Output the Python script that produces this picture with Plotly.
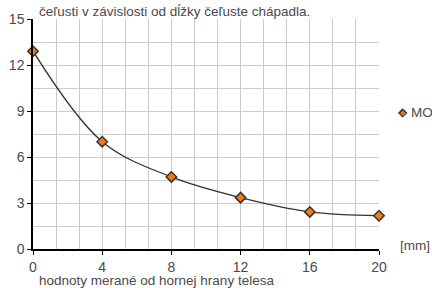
import plotly.graph_objects as go

x_vals = [0, 4, 8, 12, 16, 20]
y_vals = [12.9, 7.0, 4.7, 3.35, 2.42, 2.17]
series_name = "MOMENT"
title_text = "čeľusti v závislosti od dĺžky čeľuste chápadla."
x_title = "hodnoty merané od hornej hrany telesa"
x_unit = "[mm]"

fig = go.Figure()
fig.add_trace(go.Scatter(
    x=x_vals, y=y_vals, name=series_name, mode="lines+markers",
    line=dict(shape="spline", smoothing=1.0, color="#333333", width=1.3),
    marker=dict(symbol="diamond", size=8, color="#f07c10",
                line=dict(color="#333333", width=1.5)),
    cliponaxis=False, showlegend=False,
))

txt = dict(size=13.5, color="#4a4a4a", family="Liberation Sans, Arial, sans-serif")

fig.update_layout(
    width=432, height=288,
    margin=dict(l=33, r=53, t=19, b=39, autoexpand=False),
    paper_bgcolor="white", plot_bgcolor="white",
    font=txt,
    showlegend=False,
    annotations=[
        dict(text=title_text, xref="paper", yref="paper", x=0.012, y=1.0,
             xanchor="left", yanchor="bottom", showarrow=False,
             font=txt, yshift=-2),
        dict(text=x_title, xref="paper", yref="paper", x=0.012, y=0,
             xanchor="left", yanchor="top", showarrow=False,
             font=txt, yshift=-22),
        dict(text=x_unit, xref="paper", yref="paper", x=1.055, y=0,
             xanchor="left", yanchor="middle", showarrow=False,
             font=txt, yshift=4),
        # legend entry
        dict(text="◆", xref="paper", yref="paper", x=1.07, y=0.595,
             xanchor="center", yanchor="middle", showarrow=False,
             font=dict(size=12, color="#333333")),
        dict(text="◆", xref="paper", yref="paper", x=1.07, y=0.595,
             xanchor="center", yanchor="middle", showarrow=False,
             font=dict(size=7, color="#f07c10")),
        dict(text=series_name, xref="paper", yref="paper", x=1.086, y=0.595,
             xanchor="left", yanchor="middle", showarrow=False,
             font=txt),
    ],
)

tickfont = dict(size=14, color="#4a4a4a", family="Liberation Sans, Arial, sans-serif")
fig.update_xaxes(
    range=[0, 20], tickmode="linear", tick0=0, dtick=4,
    showgrid=True, gridcolor="#cccccc", gridwidth=1,
    minor=dict(dtick=4/3, tick0=0, showgrid=True, gridcolor="#cccccc", gridwidth=1),
    showline=True, linecolor="black", linewidth=1.5,
    ticks="outside", ticklen=4, tickcolor="black", tickwidth=1,
    zeroline=False, tickfont=tickfont,
)
fig.update_yaxes(
    range=[0, 15], tickmode="linear", tick0=0, dtick=3,
    showgrid=True, gridcolor="#cccccc", gridwidth=1,
    minor=dict(dtick=1.5, tick0=0, showgrid=True, gridcolor="#cccccc", gridwidth=1),
    showline=True, linecolor="black", linewidth=1.5,
    ticks="outside", ticklen=4, tickcolor="black", tickwidth=1,
    zeroline=False, tickfont=tickfont,
)

fig.write_html("out.html", config={"displayModeBar": False},
               post_script="document.body.style.margin='0';")
